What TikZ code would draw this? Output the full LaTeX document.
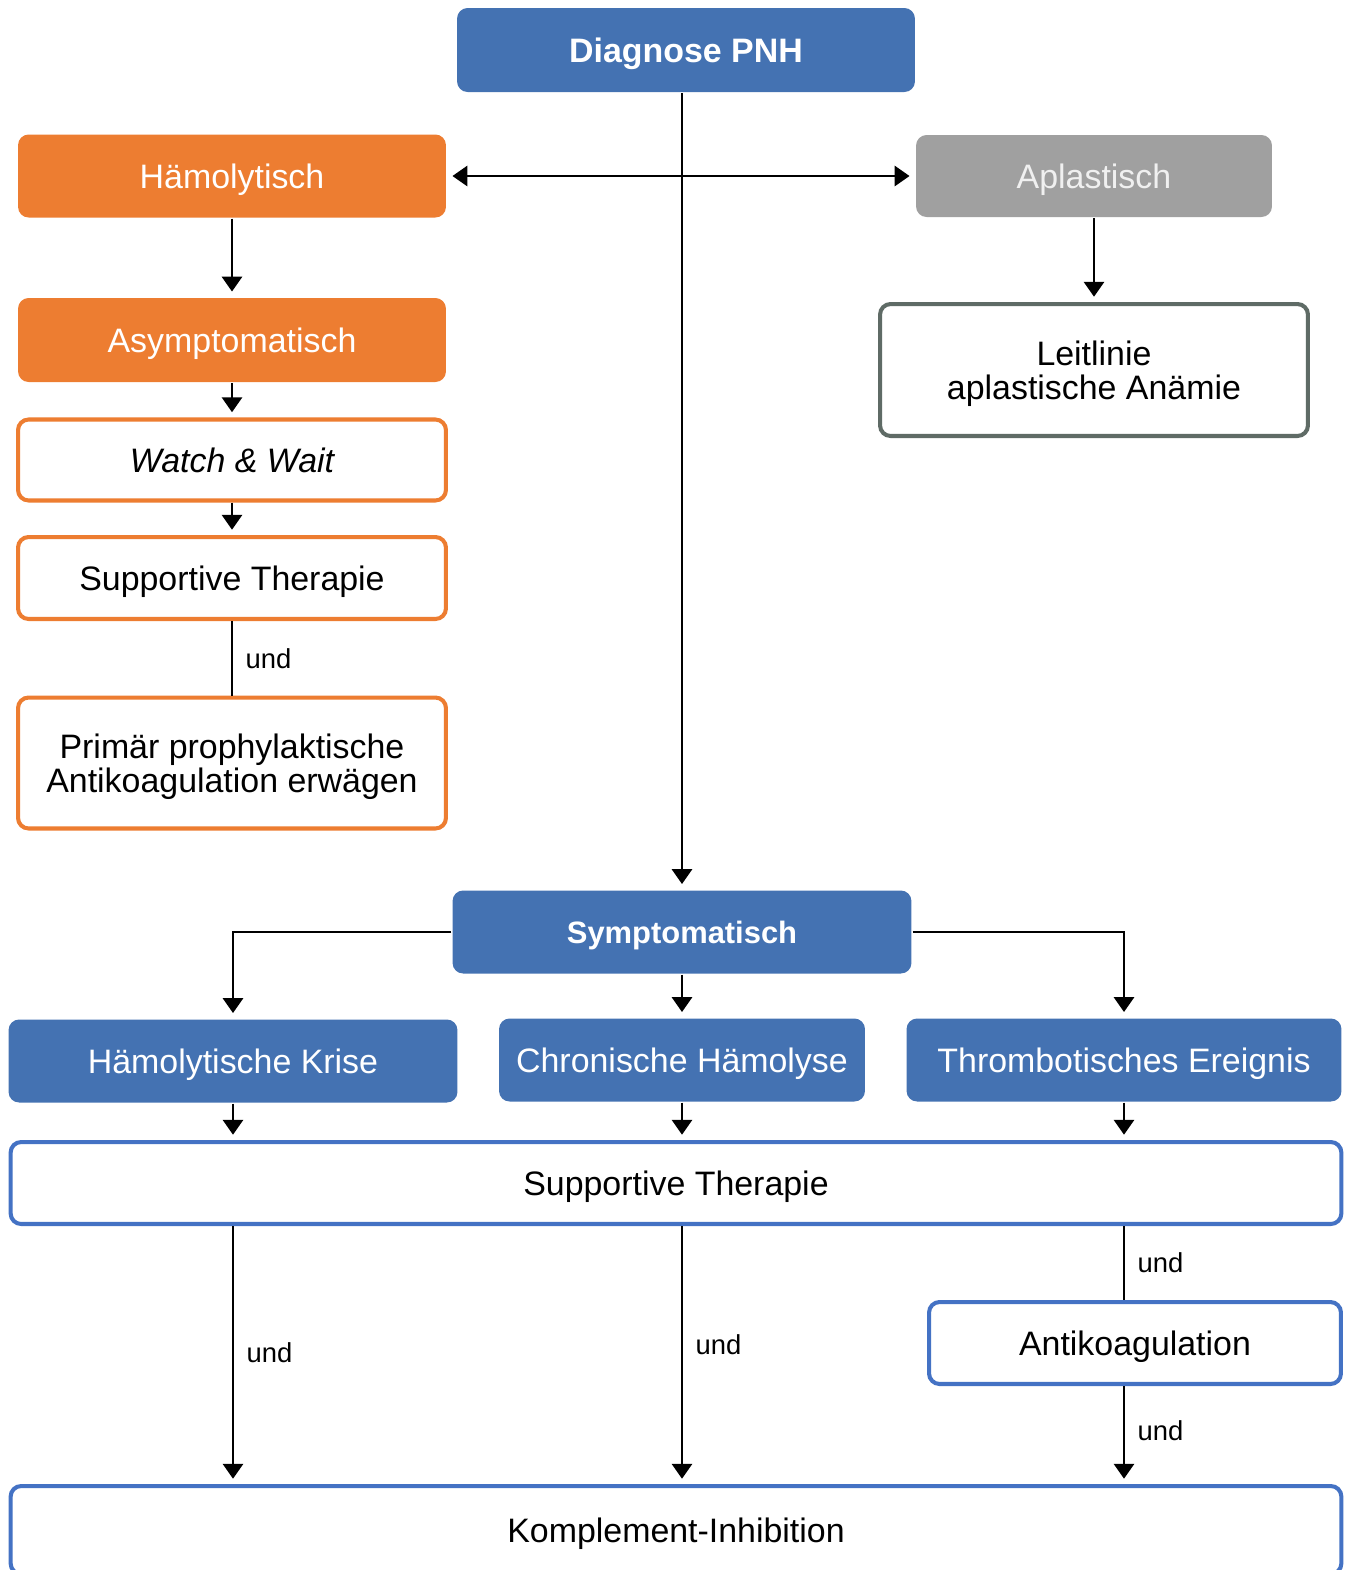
\documentclass[tikz,border=0pt]{standalone}
\usepackage{fontspec}
\setmainfont{Liberation Sans}
\usetikzlibrary{arrows.meta,positioning,calc}

\begin{document}
\begin{tikzpicture}[
        >={Triangle[length=8.5pt,width=11.5pt]}, % Pfeilspitzen wie im Schema
        x=0.02cm, y=-0.02cm, % 1 Einheit = 1 Pixel der Vorlage
        line width=1.4pt,
        every node/.style={font=\fontsize{19.3}{19.6}\selectfont},
        box/.style={rounded corners=6pt, align=center, inner sep=0pt, text depth=0pt},
        bluebox/.style={box, fill=pnhblue, text=white},
        orangebox/.style={box, fill=pnhorange, text=white},
        greybox/.style={box, fill=pnhgrey, text=pnhlight},
        orangeframe/.style={box, draw=pnhorange, line width=2.3pt, fill=white},
        blueframe/.style={box, draw=pnhframe, line width=2.3pt, fill=white},
        greyframe/.style={box, draw=pnhdark, line width=2.3pt, fill=white},
        arrow/.style={->, shorten >=3pt},
        und/.style={font=\fontsize{15.6}{16}\selectfont, right, inner sep=0pt, xshift=7pt}
    ]

        % --- FARBEN ---
        \definecolor{pnhblue}{RGB}{68, 114, 178}
        \definecolor{pnhframe}{RGB}{68, 114, 196}
        \definecolor{pnhorange}{RGB}{237, 125, 49}
        \definecolor{pnhgrey}{RGB}{160, 160, 160}
        \definecolor{pnhlight}{RGB}{240, 240, 240}
        \definecolor{pnhdark}{RGB}{95, 107, 102}

        % --- RAHMEN DES BILDES ---
        \clip (0,0) rectangle (1352,1570);

        % --- OBERER TEIL ---
        \node[bluebox, minimum width=9.16cm, minimum height=1.68cm, font=\fontsize{19.3}{19.6}\selectfont\bfseries]
            (diag) at (686,50) {Diagnose PNH};
        \node[orangebox, minimum width=8.56cm, minimum height=1.66cm] (haem) at (232,176) {Hämolytisch};
        \node[greybox, minimum width=7.12cm, minimum height=1.64cm] (aplast) at (1094,176) {Aplastisch};

        % --- LINKE SPALTE ---
        \node[orangebox, minimum width=8.56cm, minimum height=1.68cm] (asym) at (232,340) {Asymptomatisch};
        \node[orangeframe, minimum width=8.56cm, minimum height=1.62cm] (watch) at (232,460) {\itshape Watch \& Wait};
        \node[orangeframe, minimum width=8.56cm, minimum height=1.64cm] (supl) at (232,578) {Supportive Therapie};
        \node[orangeframe, minimum width=8.56cm, minimum height=2.62cm] (prim) at (232,763)
            {Primär prophylaktische\\Antikoagulation erwägen};

        % --- RECHTE SPALTE ---
        \node[greyframe, minimum width=8.56cm, minimum height=2.64cm] (leit) at (1094,370)
            {Leitlinie\\aplastische Anämie};

        % --- SYMPTOMATISCHER ZWEIG ---
        \node[bluebox, minimum width=9.18cm, minimum height=1.66cm, font=\fontsize{17.6}{18}\selectfont\bfseries]
            (sym) at (682,932) {Symptomatisch};
        \node[bluebox, minimum width=8.98cm, minimum height=1.66cm] (krise) at (233,1061) {Hämolytische Krise};
        \node[bluebox, minimum width=7.32cm, minimum height=1.66cm] (chron) at (682,1060) {Chronische Hämolyse};
        \node[bluebox, minimum width=8.70cm, minimum height=1.66cm] (thromb) at (1124,1060) {Thrombotisches Ereignis};

        \node[blueframe, minimum width=26.62cm, minimum height=1.64cm] (supw) at (676,1183) {Supportive Therapie};
        \node[blueframe, minimum width=8.24cm, minimum height=1.64cm] (anti) at (1135,1343) {Antikoagulation};
        \node[blueframe, minimum width=26.62cm, minimum height=1.76cm] (kompl) at (676,1530) {Komplement-Inhibition};

        % --- VERBINDUNGEN OBEN ---
        \draw[arrow] (diag.south -| sym.north) -- (sym.north);
        \draw[<->, shorten <=3pt, shorten >=3pt] (haem.east) -- (aplast.west);
        \draw[arrow] (haem) -- (asym);
        \draw[arrow] (asym) -- (watch);
        \draw[arrow] (watch) -- (supl);
        \draw (supl) -- (prim) node[und, midway] {und};
        \draw[arrow] (aplast) -- (leit);

        % --- VERBINDUNGEN UNTEN ---
        \draw[arrow] (sym.west) -| (krise.north);
        \draw[arrow] (sym) -- (chron);
        \draw[arrow] (sym.east) -| (thromb.north);
        \draw[arrow] (krise.south) -- (krise.south |- supw.north);
        \draw[arrow] (chron.south) -- (chron.south |- supw.north);
        \draw[arrow] (thromb.south) -- (thromb.south |- supw.north);

        \draw[arrow] (supw.south -| krise) -- (kompl.north -| krise) node[und, pos=0.49] {und};
        \draw[arrow] (supw.south -| sym) -- (kompl.north -| sym) node[und, pos=0.46] {und};
        \draw (supw.south -| thromb) -- (anti.north -| thromb) node[und, pos=0.49] {und};
        \draw[arrow] (anti.south -| thromb) -- (kompl.north -| thromb) node[und, pos=0.46] {und};

    \end{tikzpicture}
\end{document}
